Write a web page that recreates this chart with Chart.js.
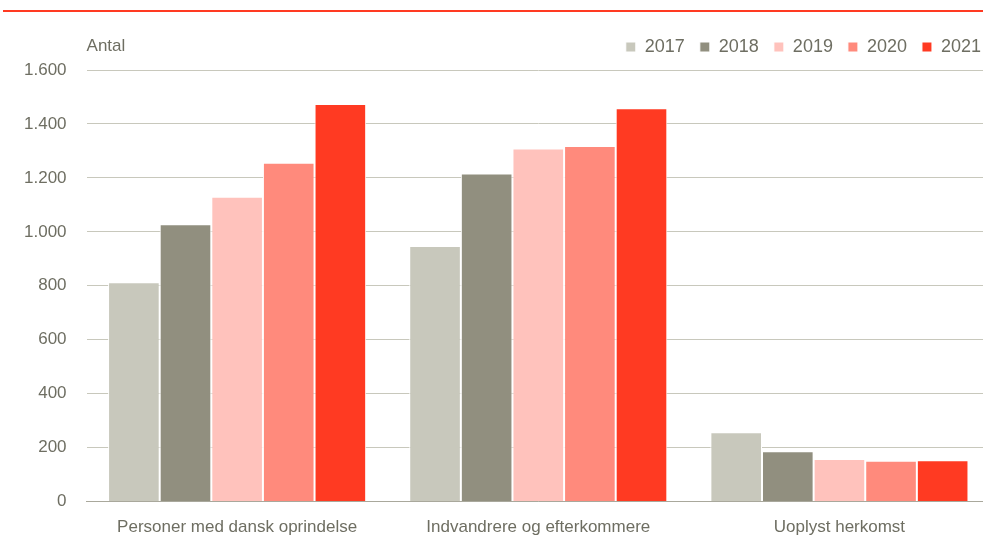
<!DOCTYPE html>
<html>
<head>
<meta charset="utf-8">
<script src="https://cdn.jsdelivr.net/npm/chart.js@4/dist/chart.umd.min.js"></script>
<style>
  html, body { margin: 0; padding: 0; background: #fff; overflow: hidden; }
  #wrap { position: relative; width: 990px; height: 554px; }
</style>
</head>
<body>
<div id="wrap"><canvas id="graf" width="990" height="554"></canvas></div>
<script>
// Data
const kategorier = ['Personer med dansk oprindelse', 'Indvandrere og efterkommere', 'Uoplyst herkomst'];
const aar = ['2017', '2018', '2019', '2020', '2021'];
const v2017 = [813, 948, 257];
const v2018 = [1028, 1216, 187];
const v2019 = [1130, 1309, 158];
const v2020 = [1256, 1318, 151];
const v2021 = [1474, 1458, 153];
const farver = ['#C8C8BC', '#918F7F', '#FFC2BC', '#FF8A7C', '#FF3A22'];

const serier = [v2017, v2018, v2019, v2020, v2021];
const tekstFarve = '#6E6E62';
const skrift = "'Liberation Sans', Arial, sans-serif";

// lidt ekstra luft under legenden og skub den lidt til højre
const legendeLuft = {
    id: 'legendeLuft',
    beforeInit(chart) {
        const fit = chart.legend.fit;
        chart.legend.fit = function () {
            fit.call(this);
            this.height += 4;
        };
    },
    afterLayout(chart) {
        chart.legend.left += 6;
        chart.legend.right += 6;
    }
};

// rød streg øverst + "Antal"
const pynt = {
    id: 'pynt',
    afterDraw(chart) {
        const c = chart.ctx;
        c.save();
        c.fillStyle = '#FF3A22';
        c.fillRect(3, 10, 990, 2);
        c.fillStyle = tekstFarve;
        c.font = '17px ' + skrift;
        c.textBaseline = 'middle';
        c.textAlign = 'left';
        c.fillText('Antal', chart.chartArea.left, 46);
        c.restore();
    }
};

const ctx = document.getElementById('graf').getContext('2d');
new Chart(ctx, {
    type: 'bar',
    data: {
        labels: kategorier,
        datasets: aar.map((a, i) => ({
            label: a,
            data: serier[i],
            backgroundColor: farver[i],
            borderColor: '#ffffff',
            borderWidth: 1,
            categoryPercentage: 0.857,
            barPercentage: 1
        }))
    },
    options: {
        responsive: false,
        animation: false,
        devicePixelRatio: 1,
        layout: { padding: { left: 4, right: 0, top: 23, bottom: 0 } },
        plugins: {
            legend: {
                position: 'top',
                align: 'end',
                labels: {
                    color: tekstFarve,
                    font: { family: skrift, size: 18 },
                    boxWidth: 10,
                    boxHeight: 10,
                    padding: 15
                }
            },
            tooltip: { enabled: false }
        },
        scales: {
            x: {
                grid: { display: false, drawTicks: false },
                border: { color: '#A9A89C', width: 1 },
                ticks: {
                    color: tekstFarve,
                    font: { family: skrift, size: 17 },
                    padding: 16,
                    maxRotation: 0
                }
            },
            y: {
                min: 0,
                max: 1600,
                grid: { color: '#C8C8BC', lineWidth: 1, drawTicks: false },
                border: { display: false },
                ticks: {
                    stepSize: 200,
                    color: tekstFarve,
                    font: { family: skrift, size: 17 },
                    padding: 20,
                    callback: v => v.toLocaleString('da-DK')
                }
            }
        }
    },
    plugins: [legendeLuft, pynt]
});
</script>
</body>
</html>
